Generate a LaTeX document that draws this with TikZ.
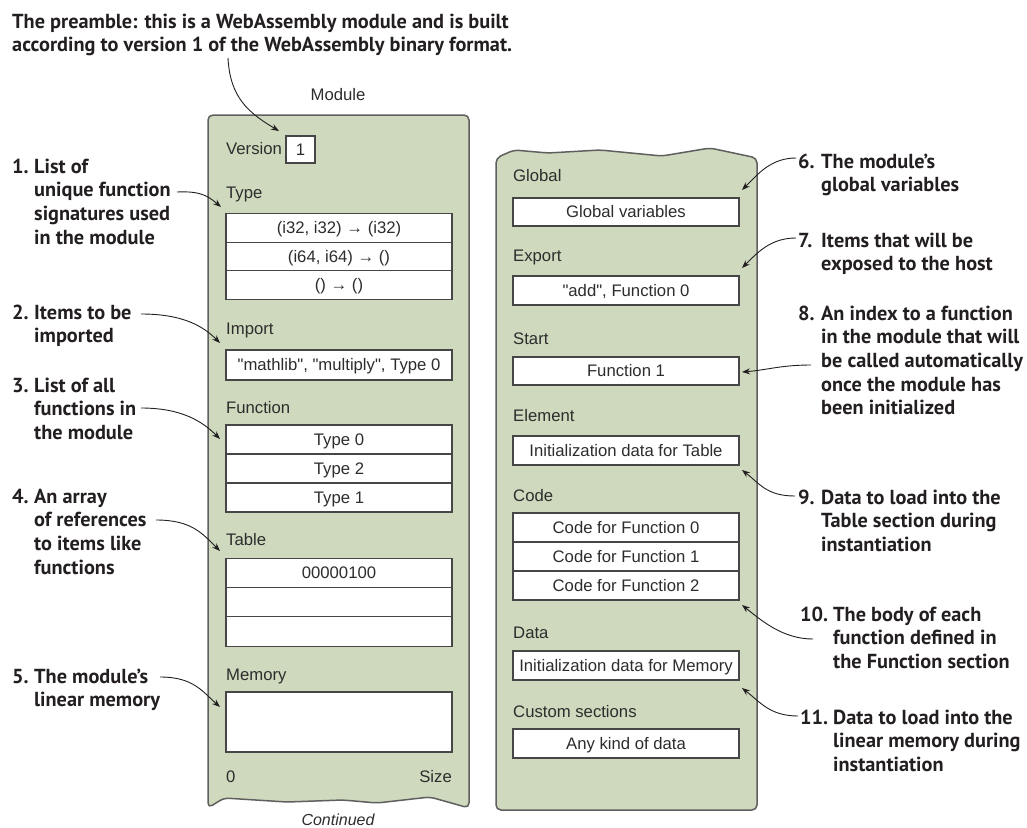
\documentclass[tikz,border=0pt]{standalone}
\usepackage{fontspec}
\setmainfont{Liberation Sans}[Ligatures=TeXOff]
\newfontfamily\annfont{PT Sans}
\usetikzlibrary{arrows.meta}
\definecolor{panelgreen}{RGB}{206,217,189}
\definecolor{panelline}{RGB}{95,95,95}
\definecolor{boxline}{RGB}{70,70,70}
\definecolor{labeltext}{RGB}{45,45,45}
\definecolor{anntext}{RGB}{35,31,32}
\newcommand\annlines[3]{\begin{tabular}[t]{@{}p{#1}@{}l@{}}#2&\begin{tabular}[t]{@{}l@{}}#3\end{tabular}\end{tabular}}
\tikzset{
  panel/.style={draw=panelline, fill=panelgreen, line width=1.5pt, rounded corners=5pt},
  lbl/.style={anchor=base west, inner sep=0, font=\fontsize{16.7}{19}\selectfont, text=labeltext},
  cell/.style={draw=boxline, fill=white, line width=1.2pt, minimum width=226pt, minimum height=#1,
    inner sep=0, font=\fontsize{16.7}{19}\selectfont, text=labeltext, text height=12pt, text depth=0.5pt},
  cell/.default=29pt,
  annot/.style={anchor=base west, inner sep=0, font=\annfont\bfseries\fontsize{20.3}{23.7}\selectfont, text=anntext},
  arr/.style={draw=anntext, line width=0.9pt, -{Stealth[length=8pt,width=6pt]}}
}
\begin{document}
\begin{tikzpicture}[x=1pt,y=-1pt]
\useasboundingbox (0,0) rectangle (1027,827);
% panels
\draw[panel] (208,808) -- (208,115) -- (469,115) -- (469,808) -- (430,797) -- (377,803) -- (343,800) -- (287,802) -- (224,798) -- cycle;
\draw[panel] (496,158) -- (514,150) -- (548,153) -- (600,150) -- (662,156) -- (710,148) -- (757,158) -- (757,810) -- (496,810) -- cycle;
% left panel
\node[lbl, anchor=base] (module) at (338,100) {Module};
\node[lbl] (version) at (226,154) {Version};
\node[cell, minimum width=29pt, minimum height=27pt] (vbox) at (300.5,149.5) {1};
\node[lbl] (type) at (226,198) {Type};
\node[cell=28.5pt] (ty1) at (339,228) {(i32, i32) → (i32)};
\node[cell=28.5pt] (ty2) at (339,256.5) {(i64, i64) → ()};
\node[cell=28.5pt] (ty3) at (339,285) {() → ()};
\node[lbl] (import) at (226,334) {Import};
\node[cell=30pt] (imp) at (339,365) {"mathlib", "multiply", Type 0};
\node[lbl] (function) at (226,413) {Function};
\node[cell] (fn1) at (339,439.5) {Type 0};
\node[cell] (fn2) at (339,468.5) {Type 2};
\node[cell] (fn3) at (339,497.5) {Type 1};
\node[lbl] (table) at (226,545) {Table};
\node[cell=29.3pt] (tb1) at (339,573) {00000100};
\node[cell=29.3pt] (tb2) at (339,602.5) {};
\node[cell=29.3pt] (tb3) at (339,631.5) {};
\node[lbl] (memory) at (226,680) {Memory};
\node[cell=60pt] (mem) at (339,722) {};
\node[lbl] (zero) at (226,782) {0};
\node[lbl, anchor=base east] (size) at (452,782) {Size};
\node[lbl, anchor=base, font=\itshape\fontsize{16}{18}\selectfont] (cont) at (338,825) {Continued};
% right panel
\node[lbl] (global) at (513,181) {Global};
\node[cell=28pt] (glb) at (626,212) {Global variables};
\node[lbl] (export) at (513,261) {Export};
\node[cell] (exp) at (626,290.5) {"add", Function 0};
\node[lbl] (start) at (513,344) {Start};
\node[cell=28pt] (st) at (626,371) {Function 1};
\node[lbl] (element) at (513,421) {Element};
\node[cell] (el) at (626,450.5) {Initialization data for Table};
\node[lbl] (code) at (513,501) {Code};
\node[cell] (cd1) at (626,527.5) {Code for Function 0};
\node[cell] (cd2) at (626,556.5) {Code for Function 1};
\node[cell] (cd3) at (626,585.5) {Code for Function 2};
\node[lbl] (data) at (513,638) {Data};
\node[cell] (dt) at (626,665.5) {Initialization data for Memory};
\node[lbl] (custom) at (513,717) {Custom sections};
\node[cell] (cs) at (626,743.5) {Any kind of data};
% annotations
\node[annot] (pre) at (12,28) {\begin{tabular}[t]{@{}l@{}}The preamble: this is a WebAssembly module and is built\\according to version 1 of the WebAssembly binary format.\end{tabular}};
\node[annot] (a1) at (12,173) {\annlines{22pt}{1.}{List of\\unique function\\signatures used\\in the module}};
\node[annot] (a2) at (12,319) {\annlines{22pt}{2.}{Items to be\\imported}};
\node[annot] (a3) at (12,392) {\annlines{22pt}{3.}{List of all\\functions in\\the module}};
\node[annot] (a4) at (12,503) {\annlines{22pt}{4.}{An array\\of references\\to items like\\functions}};
\node[annot] (a5) at (12,683) {\annlines{22pt}{5.}{The module’s\\linear memory}};
\node[annot] (a6) at (798,168) {\annlines{23pt}{6.}{The module’s\\global variables}};
\node[annot] (a7) at (798,247) {\annlines{23pt}{7.}{Items that will be\\exposed to the host}};
\node[annot] (a8) at (798,320) {\annlines{23pt}{8.}{An index to a function\\in the module that will\\be called automatically\\once the module has\\been initialized}};
\node[annot] (a9) at (798,504) {\annlines{23pt}{9.}{Data to load into the\\Table section during\\instantiation}};
\node[annot] (a10) at (800,621) {\annlines{33pt}{10.}{The body of each\\function defined in\\the Function section}};
\node[annot] (a11) at (800,724) {\annlines{33pt}{11.}{Data to load into the\\linear memory during\\instantiation}};
% arrow end coordinates
\coordinate (p0s) at (228,58);   \coordinate (p0e) at (279,131);
\coordinate (p1s) at (177,192);  \coordinate (p1e) at (221,207);
\coordinate (p2s) at (141,314);  \coordinate (p2e) at (220,343);
\coordinate (p3s) at (141,408);  \coordinate (p3e) at (220,439);
\coordinate (p4s) at (156,520);  \coordinate (p4e) at (220,551);
\coordinate (p5s) at (160,677);  \coordinate (p5e) at (220,707);
\coordinate (p6s) at (796,158);  \coordinate (p6e) at (742,190);
\coordinate (p7s) at (796,238);  \coordinate (p7e) at (742,268);
\coordinate (p8s) at (811,365);  \coordinate (p8e) at (742,372);
\coordinate (p9s) at (795,496);  \coordinate (p9e) at (742,470);
\coordinate (p10s) at (813,639); \coordinate (p10e) at (742,605);
\coordinate (p11s) at (798,716); \coordinate (p11e) at (742,688);
\draw[arr] (p0s) .. controls +(2,40) and +(-30,-18) .. (p0e);
\draw[arr] (p1s) .. controls +(22,-1) and +(-14,-12) .. (p1e);
\draw[arr] (p2s) .. controls +(40,0) and +(-18,-18) .. (p2e);
\draw[arr] (p3s) .. controls +(40,0) and +(-18,-18) .. (p3e);
\draw[arr] (p4s) .. controls +(35,0) and +(-18,-18) .. (p4e);
\draw[arr] (p5s) .. controls +(33,0) and +(-18,-16) .. (p5e);
\draw[arr] (p6s) .. controls +(-25,0) and +(16,-16) .. (p6e);
\draw[arr] (p7s) .. controls +(-25,0) and +(16,-16) .. (p7e);
\draw[arr] (p8s) .. controls +(-30,0) and +(25,-2) .. (p8e);
\draw[arr] (p9s) .. controls +(-28,0) and +(18,14) .. (p9e);
\draw[arr] (p10s) .. controls +(-30,0) and +(20,16) .. (p10e);
\draw[arr] (p11s) .. controls +(-28,0) and +(18,14) .. (p11e);
\end{tikzpicture}
\end{document}
